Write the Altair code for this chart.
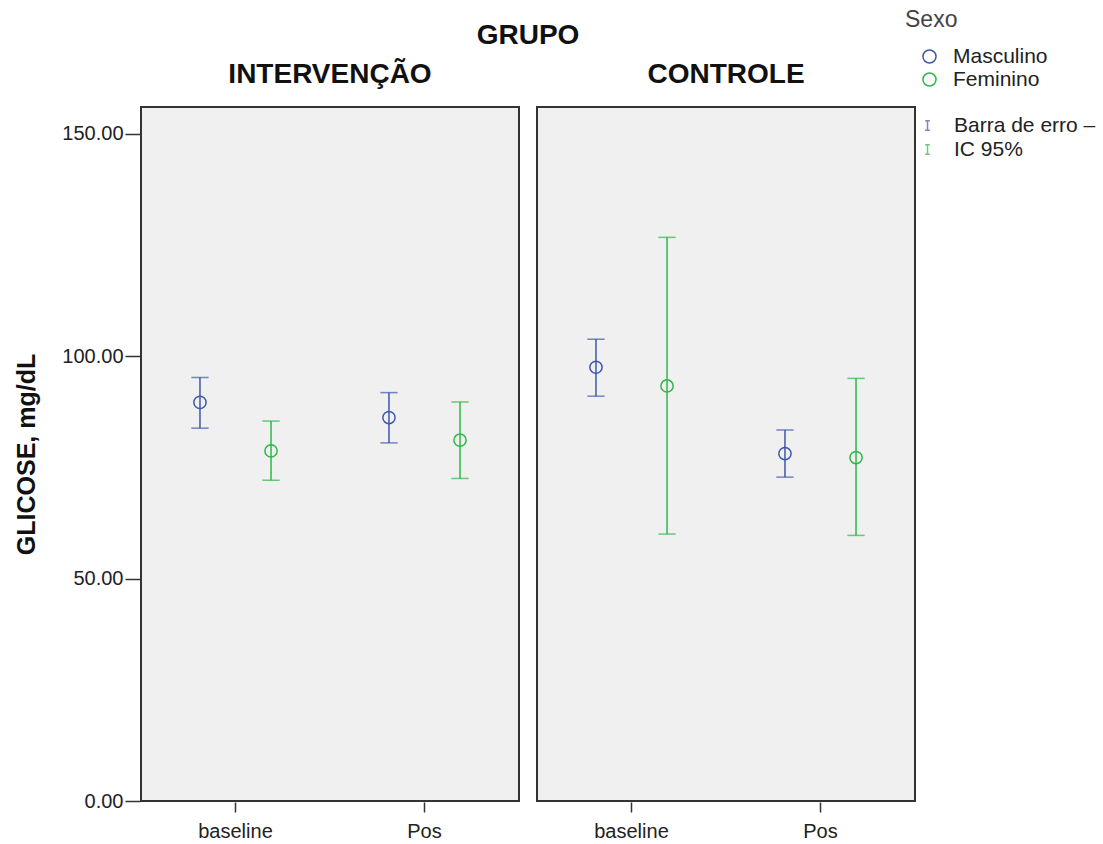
import altair as alt
import pandas as pd

grupo = ["INTERVENÇÃO"] * 4 + ["CONTROLE"] * 4
tempo = ["baseline", "baseline", "Pos", "Pos"] * 2
sexo = ["Masculino", "Feminino"] * 4
media = [89.6, 78.7, 86.2, 81.1, 97.5, 93.3, 78.1, 77.2]
inferior = [83.8, 72.1, 80.5, 72.5, 91.0, 60.0, 72.8, 59.7]
superior = [95.2, 85.4, 91.8, 89.7, 103.8, 126.7, 83.4, 95.0]

grupos = ["INTERVENÇÃO", "CONTROLE"]
tempos = ["baseline", "Pos"]
sexos = ["Masculino", "Feminino"]
rotulos_barra = ["Barra de erro –", "IC 95%"]
cores = ["#3E58AC", "#2EB848"]

df = pd.DataFrame({
    "GRUPO": grupo, "Tempo": tempo, "Sexo": sexo,
    "Barra": [rotulos_barra[sexos.index(s)] for s in sexo],
    "Media": media, "Inf": inferior, "Sup": superior,
})

FONT = "Liberation Sans"

x_enc = alt.X("Tempo:N", sort=tempos, title=None,
              scale=alt.Scale(paddingInner=0, paddingOuter=0),
              axis=alt.Axis(labelAngle=0, labelFontSize=20, labelColor="#222",
                            tickSize=10, tickColor="#333", tickWidth=1.5,
                            domain=False, labelPadding=9))
xoff = alt.XOffset("Sexo:N", sort=sexos,
                   scale=alt.Scale(paddingInner=0, paddingOuter=0.33))
y_scale = alt.Scale(domain=[0, 156], nice=False, zero=True)
y_axis = alt.Axis(values=[0, 50, 100, 150], format=".2f", labelFontSize=20,
                  labelColor="#222", tickSize=15, tickColor="#333", tickWidth=1.5,
                  labelPadding=2,
                  domain=False, grid=False, titleFontSize=25, titleFontWeight="bold",
                  titleColor="#111", titlePadding=22)

color_enc = alt.Color("Sexo:N", sort=sexos,
                      scale=alt.Scale(domain=sexos, range=cores),
                      legend=alt.Legend(title="Sexo", titleFontSize=23,
                                        titleFontWeight="normal", titleColor="#444",
                                        labelFontSize=21, labelColor="#222",
                                        symbolType="circle", symbolSize=170,
                                        symbolStrokeWidth=1.5, rowPadding=1,
                                        symbolOffset=14, labelOffset=13,
                                        titlePadding=14,
                                        orient="none", legendX=764, legendY=-98))
stroke_enc = alt.Stroke("Barra:N", sort=rotulos_barra,
                        scale=alt.Scale(domain=rotulos_barra, range=cores),
                        legend=alt.Legend(title=None, labelFontSize=21, labelColor="#222",
                                          symbolType="M-0.5,-1H0.5M0,-1V1M-0.5,1H0.5",
                                          symbolSize=90, symbolStrokeWidth=1.5,
                                          symbolOffset=12, labelOffset=16,
                                          rowPadding=2,
                                          orient="none", legendX=764, legendY=8))

base = alt.Chart(df)

rules = base.mark_rule(strokeWidth=1.5).encode(
    x=x_enc, xOffset=xoff,
    y=alt.Y("Inf:Q", scale=y_scale, axis=y_axis, title="GLICOSE, mg/dL"),
    y2="Sup:Q", stroke=stroke_enc)
caps_top = base.mark_point(shape="stroke", size=300, strokeWidth=1.5, filled=False).encode(
    x=x_enc, xOffset=xoff, y=alt.Y("Sup:Q", scale=y_scale), stroke=stroke_enc)
caps_bot = base.mark_point(shape="stroke", size=300, strokeWidth=1.5, filled=False).encode(
    x=x_enc, xOffset=xoff, y=alt.Y("Inf:Q", scale=y_scale), stroke=stroke_enc)
points = base.mark_point(shape="circle", size=150, strokeWidth=1.5, filled=False, opacity=1).encode(
    x=x_enc, xOffset=xoff, y=alt.Y("Media:Q", scale=y_scale), color=color_enc)

layered = alt.layer(rules, caps_top, caps_bot, points).properties(width=378, height=694)

chart = layered.facet(
    column=alt.Column("GRUPO:N", sort=grupos,
                      header=alt.Header(title="GRUPO", titleFontSize=28, titleFontWeight="bold",
                                        titleColor="#111", titlePadding=1,
                                        labelFontSize=28, labelFontWeight="bold",
                                        labelColor="#111", labelPadding=17)),
    spacing=16,
).configure(
    font=FONT, background="white",
    padding={"left": 14, "top": 9, "right": 0, "bottom": 0},
).configure_view(
    fill="#f0f0f0", stroke="#333", strokeWidth=2
)

chart.save("out.html", embed_options={"renderer": "svg", "actions": False})
